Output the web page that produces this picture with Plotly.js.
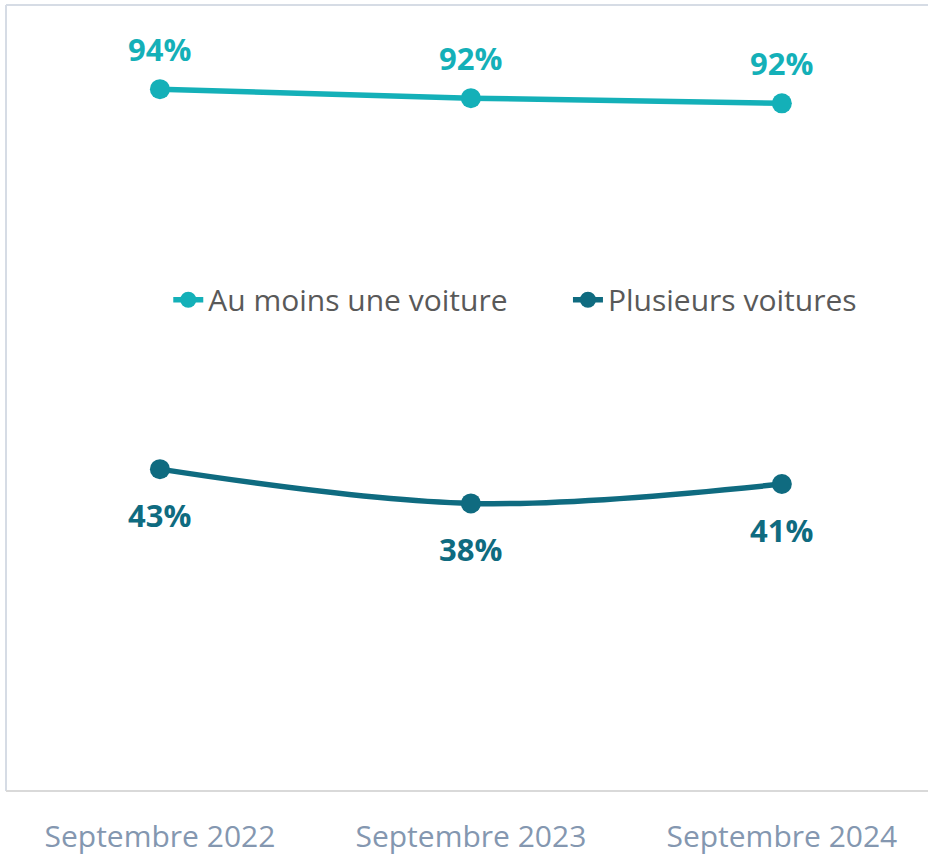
<!DOCTYPE html>
<html>
<head>
<meta charset="utf-8">
<script src="https://cdn.plot.ly/plotly-3.0.1.min.js"></script>
<style>
html,body{margin:0;padding:0;background:#fff;}
#chart{width:928px;height:858px;}
</style>
</head>
<body>
<div id="chart"></div>
<script>
const categories = ["Septembre 2022", "Septembre 2023", "Septembre 2024"];
const seriesNames = ["Au moins une voiture", "Plusieurs voitures"];
const auMoinsUne = [94.0, 92.8, 92.1];
const plusieurs = [43.0, 38.4, 41.0];
const labelsAuMoinsUne = ["94%", "92%", "92%"];
const labelsPlusieurs = ["43%", "38%", "41%"];

const colorA = "#14B0B8";
const colorB = "#0F6B80";

const traces = [
  {
    x: categories, y: auMoinsUne, name: seriesNames[0], type: "scatter", mode: "lines+markers",
    line: {color: colorA, width: 5.5, shape: "spline"},
    marker: {color: colorA, size: 20},
    legend: "legend",
    hoverinfo: "skip"
  },
  {
    x: categories, y: plusieurs, name: seriesNames[1], type: "scatter", mode: "lines+markers",
    line: {color: colorB, width: 5.5, shape: "spline"},
    marker: {color: colorB, size: 20},
    legend: "legend2",
    hoverinfo: "skip"
  }
];

const annotations = [];
categories.forEach((c, i) => {
  annotations.push({x: c, y: auMoinsUne[i], text: labelsAuMoinsUne[i], showarrow: false, yshift: 40,
    font: {family: "Open Sans", size: 31, color: colorA, weight: "bold"}});
  annotations.push({x: c, y: plusieurs[i], text: labelsPlusieurs[i], showarrow: false, yshift: -46,
    font: {family: "Open Sans", size: 31, color: colorB, weight: "bold"}});
});

const legendFont = {family: "Open Sans", size: 30, color: "#595959"};

const layout = {
  width: 928, height: 858,
  margin: {l: 6, r: 0, t: 5, b: 67},
  paper_bgcolor: "#fff", plot_bgcolor: "#fff",
  showlegend: true,
  legend: {orientation: "h", x: 0.176, xanchor: "left", y: 0.625, yanchor: "middle",
    font: legendFont, bgcolor: "rgba(0,0,0,0)"},
  legend2: {orientation: "h", x: 0.6095, xanchor: "left", y: 0.625, yanchor: "middle",
    font: legendFont, bgcolor: "rgba(0,0,0,0)"},
  xaxis: {type: "category", range: [-0.495, 2.47], showgrid: false, zeroline: false, showline: false,
    ticks: "", ticklabelstandoff: 25,
    tickfont: {family: "Open Sans", size: 30, color: "#8497B0"}, fixedrange: true},
  yaxis: {range: [-0.2, 105.3], showgrid: false, zeroline: false, showline: false, showticklabels: false, fixedrange: true},
  annotations: annotations,
  shapes: [
    {type: "line", xref: "paper", yref: "paper", x0: 0, x1: 1.02, y0: 1, y1: 1, line: {color: "#D6DCE5", width: 2}},
    {type: "line", xref: "paper", yref: "paper", x0: 0, x1: 0, y0: 0, y1: 1, line: {color: "#D6DCE5", width: 2}},
    {type: "line", xref: "paper", yref: "paper", x0: 0, x1: 1.02, y0: 0, y1: 0, line: {color: "#D9D9D9", width: 2}}
  ]
};

Plotly.newPlot("chart", traces, layout, {displayModeBar: false, staticPlot: true});
</script>
</body>
</html>
